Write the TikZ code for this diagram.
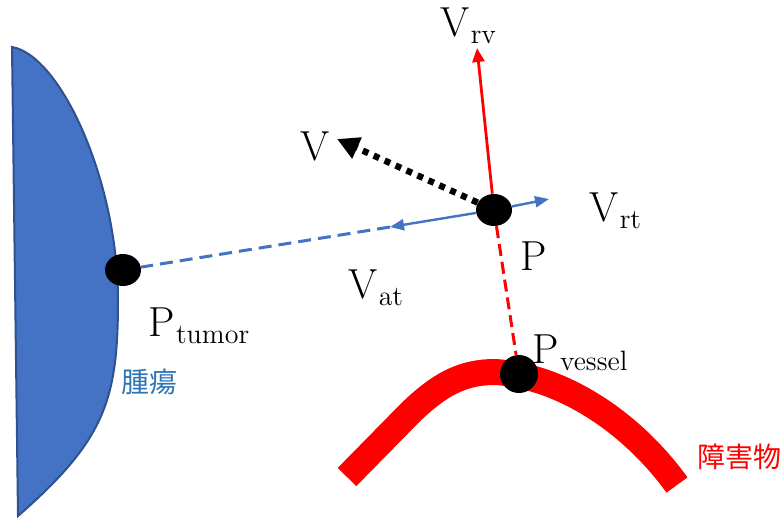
\documentclass[tikz,border=0pt]{standalone}
\usepackage{fontspec}
\newfontfamily\jpfont{Noto Sans CJK JP}
\usetikzlibrary{arrows.meta, positioning, shapes.geometric}
\usepackage{xcolor}
\definecolor{tumorblue}{RGB}{68,114,196}
\definecolor{tumoredge}{RGB}{47,82,143}
\definecolor{labelblue}{RGB}{46,117,182}
\definecolor{vesselred}{RGB}{255,0,0}
\newcommand{\withsub}[2]{#1\kern0.03em\raisebox{-3.5pt}{\fontsize{14}{14}\selectfont #2}}

\begin{document}
\begin{tikzpicture}[
  x=0.5pt, y=-0.5pt,
  dot/.style={ellipse, fill=black, inner sep=0pt, minimum width=18pt, minimum height=16pt},
  lbl/.style={anchor=base west, inner sep=0pt, font=\fontsize{21}{24}\selectfont},
  jplbl/.style={anchor=base west, inner sep=0pt, font=\jpfont\fontsize{14}{16}\selectfont, text=#1},
  redarr/.style={-{Triangle[length=7pt, width=6pt]}, line width=1.4pt, color=vesselred},
  bluearr/.style={-{Triangle[length=7pt, width=5.5pt]}, line width=1.2pt, color=tumorblue},
  dotarr/.style={-{Triangle[length=11pt, width=11pt]}, line width=3.2pt, dash pattern=on 3pt off 3pt},
  bluedash/.style={line width=1.5pt, color=tumorblue, dash pattern=on 6.5pt off 3.5pt},
  reddash/.style={line width=1.5pt, color=vesselred, dash pattern=on 6pt off 3pt}
]
\useasboundingbox (0,0) rectangle (781,519);

% tumor and obstacle
\fill[tumorblue, draw=tumoredge, line width=1pt]
  (12,47) .. controls (60,55) and (118,180) .. (118,300)
  .. controls (118,400) and (105,440) .. (18,516) -- cycle;
\draw[vesselred, line width=13pt]
  (347,477) -- (405,418) .. controls (440,382) and (465,372) .. (495,372)
  .. controls (560,376) and (630,420) .. (677,485);

% points
\node[dot] (ptumor) at (123,270) {};
\node[dot] (pp) at (494,210) {};
\node[dot, minimum width=19pt, minimum height=19pt] (pvessel) at (519,374) {};

\coordinate (vrvtip) at (477,48);
\coordinate (vrttip) at (549,199);
\coordinate (vattip) at (390,227);
\coordinate (vtip) at (337,139);

\draw[reddash] (pp) -- (pvessel);
\draw[bluedash] (vattip) -- (ptumor);
\draw[bluearr] (pp) -- (vattip);
\draw[bluearr] (pp) -- (vrttip);
\draw[redarr] (pp) -- (vrvtip);
\draw[dotarr] (pp) -- (vtip);

% labels
\node[lbl] (lvrv) at (440,37) {\withsub{V}{rv}};
\node[lbl] (lvrt) at (589,221) {\withsub{V}{rt}};
\node[lbl] (lv) at (300,160) {V};
\node[lbl] (lp) at (520,270) {P};
\node[lbl] (lvat) at (348,298) {\withsub{V}{at}};
\node[lbl] (lptumor) at (148,336) {\withsub{P}{tumor}};
\node[lbl] (lpvessel) at (532,363) {\withsub{P}{vessel}};
\node[jplbl=labelblue] (ltumor) at (121,392) {腫瘍};
\node[jplbl=vesselred] (lobst) at (697,467) {障害物};

\end{tikzpicture}
\end{document}
